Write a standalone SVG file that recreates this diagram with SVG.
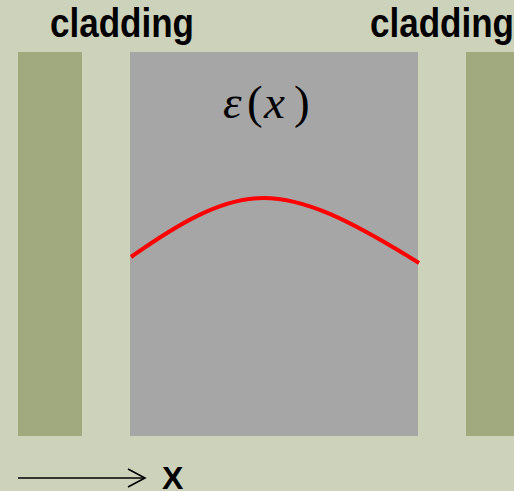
<svg xmlns="http://www.w3.org/2000/svg" width="514" height="491" viewBox="0 0 514 491">
<defs>
<style>
.lbl{font-family:"Liberation Sans",Arial,sans-serif;font-weight:bold;fill:#000;}
.clad{fill:#A1AA7E;}
.math{font-family:"Liberation Serif","Times New Roman",serif;font-size:47px;fill:#000;}
</style>
<marker id="open" viewBox="0 0 20 20" refX="18" refY="10" markerWidth="20" markerHeight="20" markerUnits="userSpaceOnUse" orient="auto">
<path d="M1,1 L18,10 L1,19" fill="none" stroke="#000" stroke-width="1.6"/>
</marker>
</defs>
<rect width="514" height="491" fill="#CDD3BB"/>
<g id="cladding-left">
<rect class="clad" x="18" y="52" width="64" height="384"/>
<text class="lbl" x="50" y="37" font-size="40" textLength="144" lengthAdjust="spacingAndGlyphs">cladding</text>
</g>
<g id="core">
<rect x="130" y="52" width="288" height="384" fill="#A6A6A6"/>
<text class="math" y="118"><tspan x="223" font-style="italic">ε</tspan><tspan x="247">(</tspan><tspan x="264" font-style="italic">x</tspan><tspan x="294">)</tspan></text>
<path d="M131,257 C175,226 220,198 263,198 C305,198 350,220 419,263" fill="none" stroke="#FF0000" stroke-width="4"/>
</g>
<g id="cladding-right">
<rect class="clad" x="466" y="52" width="60" height="384"/>
<text class="lbl" x="370" y="37" font-size="40" textLength="144" lengthAdjust="spacingAndGlyphs">cladding</text>
</g>
<g id="connectors">
<line x1="18" y1="478" x2="145" y2="478" stroke="#000" stroke-width="1.6" marker-end="url(#open)"/>
</g>
<g id="axis-label">
<text class="lbl" x="162" y="489" font-size="32">X</text>
</g>
</svg>
